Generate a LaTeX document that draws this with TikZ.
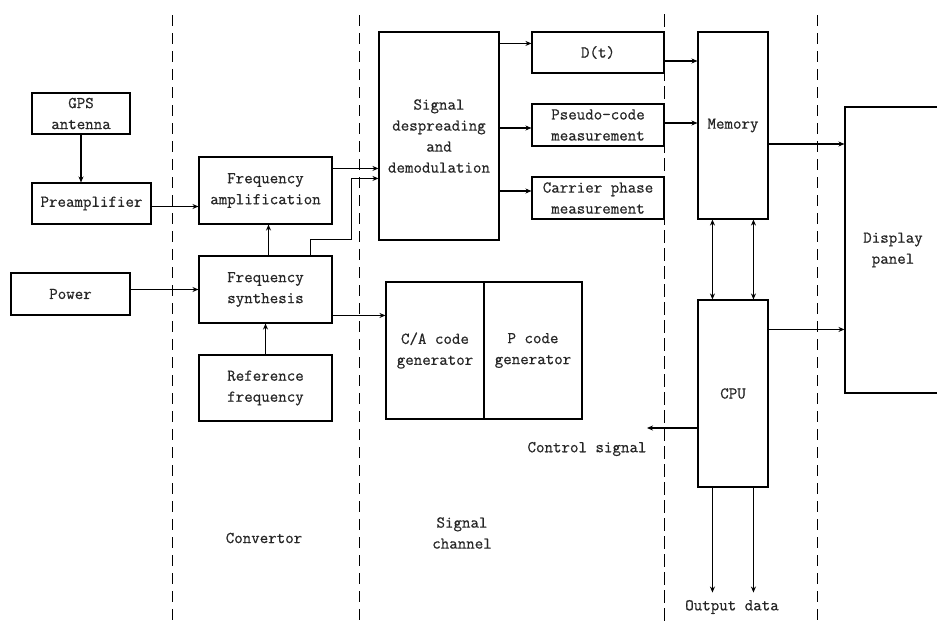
\documentclass[tikz,border=0pt]{standalone}
\usepackage{fontspec}
\setmonofont{Latin Modern Mono}[FakeBold=0.7]
\usetikzlibrary{arrows.meta,calc}
\begin{document}
\begin{tikzpicture}[x=1pt,y=-1pt,
  every node/.style={font=\ttfamily\fontsize{16.5}{21}\selectfont,text=black!85},
  box/.style={draw,line width=1.1pt,align=center,inner sep=0pt},
  arr/.style={line width=1.1pt,-{Stealth[length=6pt,width=5pt]}},
  darr/.style={line width=1.1pt,{Stealth[length=6pt,width=5pt]}-{Stealth[length=6pt,width=5pt]}},
  sep/.style={line width=1pt,dash pattern=on 11pt off 7pt},
  lbl/.style={align=center,inner sep=0pt}]
\useasboundingbox (0,0) rectangle (937,621);

% section separators
\draw[sep] (172,15) -- (172,621);
\draw[sep] (359,15) -- (359,621);
\draw[sep,dash pattern=on 13pt off 5pt] (664,14) -- (664,621);
\draw[sep] (817,15) -- (817,621);

% receiver front end
\node[box,minimum width=98pt,minimum height=41pt] (gps) at (81,113.5) {GPS\\antenna};
\node[box,minimum width=119pt,minimum height=41pt] (pre) at (91.5,203.5) {Preamplifier};
\node[box,minimum width=119pt,minimum height=42pt] (power) at (70.5,294) {Power};

% convertor
\node[box,minimum width=133pt,minimum height=67pt] (famp) at (265.5,190.5) {Frequency\\amplification};
\node[box,minimum width=133pt,minimum height=67pt] (fsyn) at (265.5,289.5) {Frequency\\synthesis};
\node[box,minimum width=133pt,minimum height=66pt] (fref) at (265.5,388) {Reference\\frequency};

% signal channel
\node[box,minimum width=120pt,minimum height=208pt] (desp) at (439,136) {Signal\\despreading\\and\\demodulation};
\node[box,minimum width=98pt,minimum height=137pt] (cagen) at (435,350.5) {C/A code\\generator};
\node[box,minimum width=98pt,minimum height=137pt] (pgen) at (533,350.5) {P code\\generator};
\node[box,minimum width=132pt,minimum height=41pt] (dt) at (598,52.5) {D(t)};
\node[box,minimum width=132pt,minimum height=42pt] (pseudo) at (598,125) {Pseudo-code\\measurement};
\node[box,minimum width=132pt,minimum height=42pt] (carrier) at (598,198) {Carrier phase\\measurement};

% processing and display
\node[box,minimum width=70pt,minimum height=187pt] (mem) at (733,125.5) {Memory};
\node[box,minimum width=70pt,minimum height=187pt] (cpu) at (733,393.5) {CPU};
\node[box,minimum width=96pt,minimum height=286pt] (disp) at (893,250) {Display\\panel};

% section captions and free labels
\node[lbl] (conv) at (264,538) {Convertor};
\node[lbl] (chan) at (462,533) {Signal\\channel};
\node[lbl] (ctltxt) at (587,449) {Control signal};
\node[lbl] (outtxt) at (732,607) {Output data};

% connector end points
\coordinate (d1) at ($(desp.north west)+(0,137)$);
\coordinate (d2) at ($(desp.north west)+(0,147)$);
\coordinate (fs1) at ($(fsyn.north east)+(-22,0)$);
\coordinate (c1) at ($(cagen.north west)+(0,34)$);
\coordinate (t1) at ($(dt.north west)+(0,12)$);
\coordinate (t2) at ($(pseudo.west)+(0,3)$);
\coordinate (t3) at ($(carrier.west)+(0,-7)$);
\coordinate (m1) at ($(dt.east)+(0,8.5)$);
\coordinate (m2) at ($(pseudo.east)+(0,-2)$);
\coordinate (m3) at ($(mem.east)+(0,18.5)$);
\coordinate (p1) at ($(cpu.north east)+(0,30)$);
\coordinate (ctl) at (647,428);
\coordinate (o1) at ($(cpu.south west)+(15,105)$);
\coordinate (o2) at ($(cpu.south west)+(56,105)$);

% connectors
\draw[arr] (gps.south) -- (gps.south |- pre.north);
\draw[arr] ([yshift=-3pt]pre.east) -- ([yshift=-3pt]pre.east -| famp.west);
\draw[arr] (fsyn.west -| power.east) -- (fsyn.west);
\draw[arr] ([xshift=3pt]fsyn.north) -- ([xshift=3pt]famp.south);
\draw[arr] (fref.north) -- (fsyn.south);
\draw[arr] (famp.east |- d1) -- (d1);
\draw[arr] (fs1) -- ++(0,-16) -| ($(d2)+(-27,0)$) -- (d2);
\draw[arr] (fsyn.east |- c1) -- (c1);
\draw[arr] (desp.east |- t1) -- (t1);
\draw[arr] (desp.east |- t2) -- (t2);
\draw[arr] (desp.east |- t3) -- (t3);
\draw[arr] (m1) -- (m1 -| mem.west);
\draw[arr] (m2) -- (m2 -| mem.west);
\draw[arr] (m3) -- (m3 -| disp.west);
\draw[arr] (p1) -- (p1 -| disp.west);
\draw[darr] ($(mem.south west)+(15,0)$) -- ($(cpu.north west)+(15,0)$);
\draw[darr] ($(mem.south west)+(56,0)$) -- ($(cpu.north west)+(56,0)$);
\draw[arr] (ctl -| cpu.west) -- (ctl);
\draw[arr] ($(cpu.south west)+(15,0)$) -- (o1);
\draw[arr] ($(cpu.south west)+(56,0)$) -- (o2);
\end{tikzpicture}
\end{document}
